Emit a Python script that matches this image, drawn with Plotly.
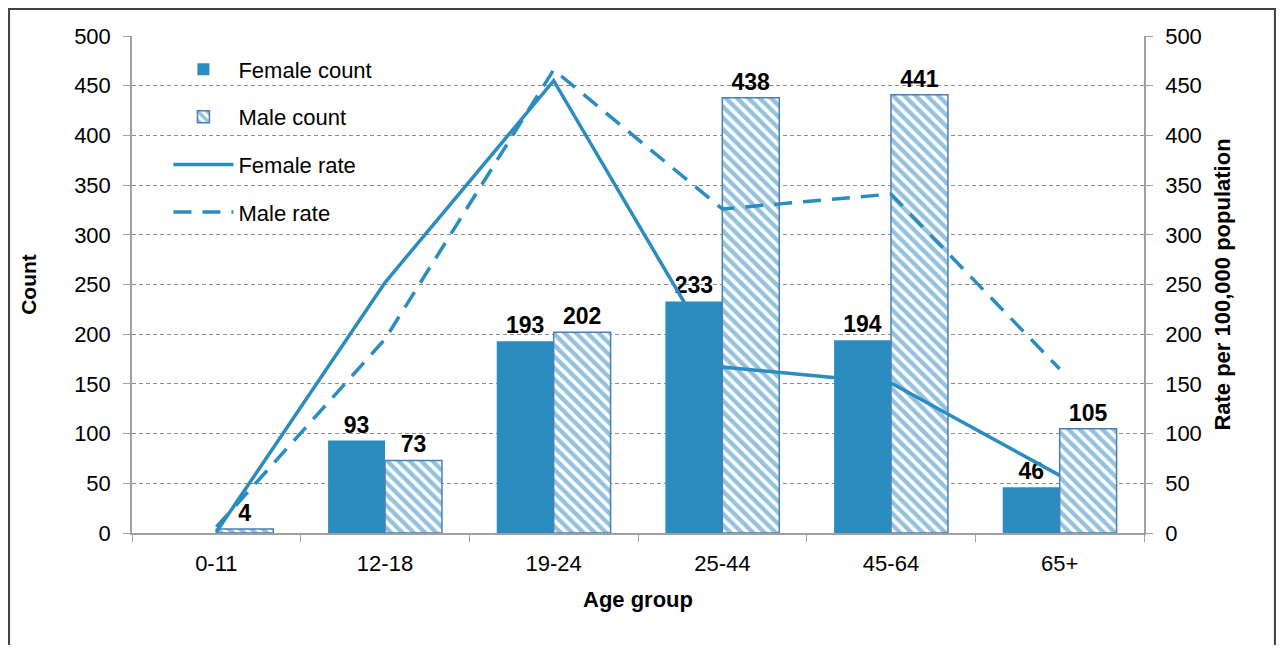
"""Counts and rates by age group, combo bar + line chart."""

import plotly.graph_objects as go

age_groups = ["0-11", "12-18", "19-24", "25-44", "45-64", "65+"]
female_count = [None, 93, 193, 233, 194, 46]
male_count = [4, 73, 202, 438, 441, 105]
female_rate = [1, 252, 455, 167, 151, 58]
male_rate = [6, 195, 466, 326, 341, 165]

y_ticks = list(range(0, 501, 50))

BLUE = '#2B8CC0'
EDGE = '#4A7EBB'
GRID = '#8C8C8C'
AXIS = '#A0A0A0'
FONT = 'Arial, Liberation Sans, sans-serif'

fig = go.Figure()

fig.add_trace(go.Bar(
    x=age_groups,
    y=female_count,
    name='Female count',
    marker=dict(color=BLUE, line=dict(width=0)),
    text=[v if v is not None else '' for v in female_count],
    textposition='outside',
    textfont=dict(size=23, color='black', family=FONT, weight='bold'),
    cliponaxis=False,
    legendgroup='fc',
    legendrank=1,
))

fig.add_trace(go.Bar(
    x=age_groups,
    y=male_count,
    name='Male count',
    marker=dict(
        color='white',
        line=dict(width=1.5, color=EDGE),
        pattern=dict(shape='\\', fgcolor='#2A86BC', bgcolor='white', size=8, solidity=0.55),
    ),
    text=male_count,
    textposition='outside',
    textfont=dict(size=23, color='black', family=FONT, weight='bold'),
    cliponaxis=False,
    legendgroup='mc',
    legendrank=2,
))

fig.add_trace(go.Scatter(
    x=age_groups,
    y=female_rate,
    name='Female rate',
    mode='lines',
    line=dict(color=BLUE, width=3.5),
    yaxis='y2',
    legendgroup='fr',
    legendrank=3,
))

fig.add_trace(go.Scatter(
    x=age_groups,
    y=male_rate,
    name='Male rate',
    mode='lines',
    line=dict(color=BLUE, width=3.5, dash='18px,11px'),
    yaxis='y2',
    legendgroup='mr',
    legendrank=4,
))

fig.update_layout(
    width=1269,
    height=637,
    margin=dict(l=124, r=133, t=28, b=112),
    plot_bgcolor='white',
    paper_bgcolor='white',
    font=dict(family=FONT, size=22, color='black'),
    barmode='group',
    bargap=0.325,
    bargroupgap=0,
    showlegend=True,
    xaxis=dict(
        type='category',
        tickson='boundaries',
        ticks='outside',
        ticklen=7,
        tickcolor=AXIS,
        showline=True,
        linecolor=AXIS,
        linewidth=1.5,
        showgrid=False,
        tickfont=dict(size=22),
        ticklabelstandoff=10,
        title=dict(text='<b>Age group</b>', font=dict(size=22), standoff=16),
    ),
    yaxis=dict(
        range=[0, 500],
        tickvals=y_ticks,
        ticks='outside',
        ticklen=7,
        tickcolor=AXIS,
        showline=True,
        linecolor=AXIS,
        linewidth=1.5,
        showgrid=True,
        gridcolor=GRID,
        griddash='4px,3px',
        gridwidth=1,
        zeroline=False,
        tickfont=dict(size=22),
        ticklabelstandoff=8,
        title=dict(text='<b>Count</b>', font=dict(size=21), standoff=32),
    ),
    yaxis2=dict(
        range=[0, 500],
        tickvals=y_ticks,
        overlaying='y',
        side='right',
        ticks='outside',
        ticklen=7,
        tickcolor=AXIS,
        showline=True,
        linecolor=AXIS,
        linewidth=1.5,
        showgrid=False,
        zeroline=False,
        tickfont=dict(size=22),
        ticklabelstandoff=8,
        title=dict(text='<b>Rate per 100,000 population</b>', font=dict(size=22), standoff=14),
    ),
    legend=dict(
        x=0.036,
        y=0.975,
        xanchor='left',
        yanchor='top',
        bgcolor='rgba(0,0,0,0)',
        font=dict(size=22),
        itemwidth=60,
        tracegroupgap=16,
        traceorder='grouped',
    ),
    shapes=[dict(
        type='rect',
        xref='paper', yref='paper',
        x0=-0.1215, x1=1.1294, y0=-1.0, y1=1.0543,
        line=dict(color='#404040', width=2),
        fillcolor='rgba(0,0,0,0)',
        layer='below',
    )],
)

fig.write_html("out.html")
